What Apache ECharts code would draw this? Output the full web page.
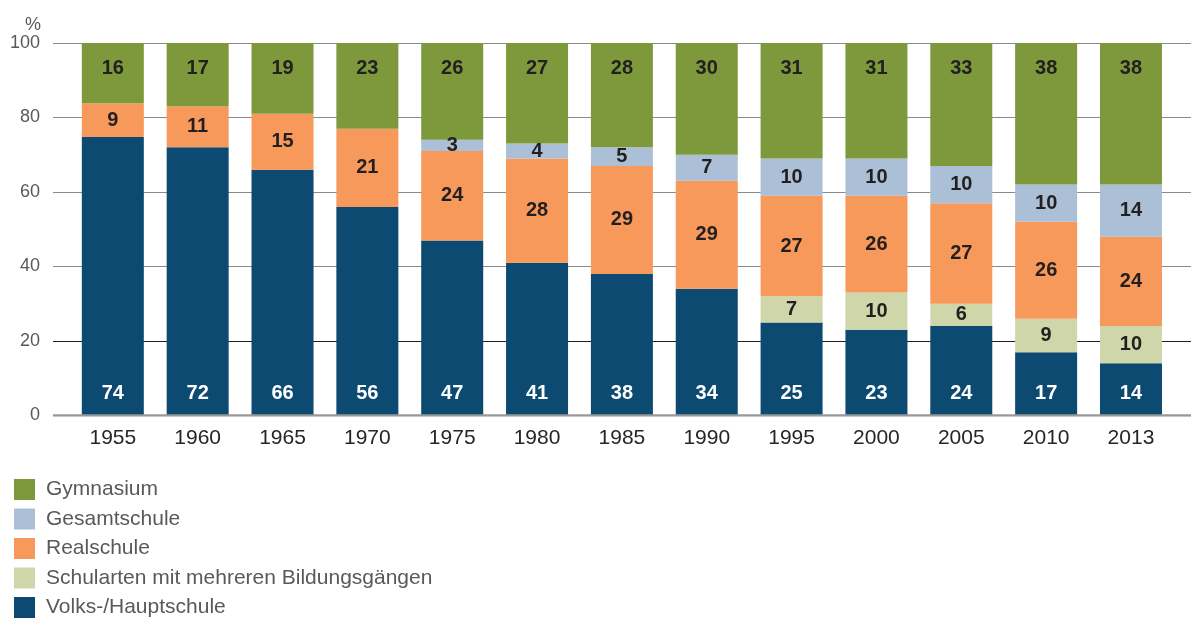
<!DOCTYPE html>
<html>
<head>
<meta charset="utf-8">
<script src="https://cdn.jsdelivr.net/npm/echarts@6/dist/echarts.min.js"></script>
<style>
html,body{margin:0;padding:0;background:#fff;}
#c{width:1191px;height:621px;}
</style>
</head>
<body>
<div id="c"></div>
<script>
const years = ['1955','1960','1965','1970','1975','1980','1985','1990','1995','2000','2005','2010','2013'];
const volks = [74,72,66,56,47,41,38,34,25,23,24,17,14];
const mehrere = [null,null,null,null,null,null,null,null,7,10,6,9,10];
const real = [9,11,15,21,24,28,29,29,27,26,27,26,24];
const gesamt = [null,null,null,null,3,4,5,7,10,10,10,10,14];
const gym = [16,17,19,23,26,27,28,30,31,31,33,38,38];
const yTicks = [0,20,40,60,80,100];

const seriesDefs = [
  {name:'Volks-/Hauptschule', data:volks, color:'#0d4a72', label:'#ffffff', pos:'insideBottom', dist:12},
  {name:'Schularten mit mehreren Bildungsgängen', data:mehrere, color:'#cfd7aa', label:'#231f20', pos:'inside', dist:5},
  {name:'Realschule', data:real, color:'#f6995a', label:'#231f20', pos:'inside', dist:5},
  {name:'Gesamtschule', data:gesamt, color:'#abc0d6', label:'#231f20', pos:'inside', dist:5},
  {name:'Gymnasium', data:gym, color:'#7e993b', label:'#231f20', pos:'insideTop', dist:15}
];
const totals = years.map((_,i)=>seriesDefs.reduce((s,d)=>s+(d.data[i]||0),0));

const font = 'Liberation Sans, Arial, sans-serif';
const chart = echarts.init(document.getElementById('c'));
chart.setOption({
  animation:false,
  title:{text:'%', left:20, top:11, textStyle:{fontFamily:font, fontSize:18, fontWeight:'normal', color:'#595959'}},
  grid:[
    {left:53, right:0, top:43, bottom:205.5},
    {left:70.4, right:17.6, top:43, bottom:205.5}
  ],
  xAxis:[
    {type:'value', gridIndex:0, min:0, max:1, show:true, axisLabel:{show:false}, axisTick:{show:false}, splitLine:{show:false},
     axisLine:{show:false}},
    {type:'category', gridIndex:1, data:years, axisTick:{show:false}, axisLine:{show:false},
     axisLabel:{fontFamily:font, fontSize:21, color:'#262626', margin:12}}
  ],
  yAxis:[
    {type:'value', gridIndex:0, min:yTicks[0], max:yTicks[yTicks.length-1], interval:20,
     axisLine:{show:false}, axisTick:{show:false},
     axisLabel:{fontFamily:font, fontSize:18, color:'#595959', margin:13},
     splitLine:{show:true, lineStyle:{color:['#999999','#1f1f1f','#8a8a8a','#8a8a8a','#8a8a8a','#8a8a8a'], width:1}}},
    {type:'value', gridIndex:1, min:0, max:100, show:false}
  ],
  legend:{
    orient:'vertical', left:14, top:479, height:142, itemWidth:21, itemHeight:21, itemGap:8.5,
    icon:'rect', padding:0,
    textStyle:{fontFamily:font, fontSize:21, lineHeight:21, color:'#595959', padding:[0,0,0,6]},
    data:seriesDefs.slice().reverse().map(d=>d.name)
  },
  series:[
    {type:'line', xAxisIndex:0, yAxisIndex:0, data:[[0,0],[1,0]], symbol:'none', silent:true,
     lineStyle:{color:'#999999', width:2.5}, z:5, legendHoverLink:false},
    ...seriesDefs.map(d=>({
      name:d.name, type:'bar', stack:'all', xAxisIndex:1, yAxisIndex:1, barWidth:62,
      itemStyle:{color:d.color},
      data:d.data.map((v,i)=>v==null?'-':v*100/totals[i]),
      label:{show:true, position:d.pos, distance:d.dist, fontFamily:font, fontSize:20, fontWeight:'bold', color:d.label,
        formatter:p=>String(d.data[p.dataIndex])},
      z:2
    }))
  ]
});
</script>
</body>
</html>
